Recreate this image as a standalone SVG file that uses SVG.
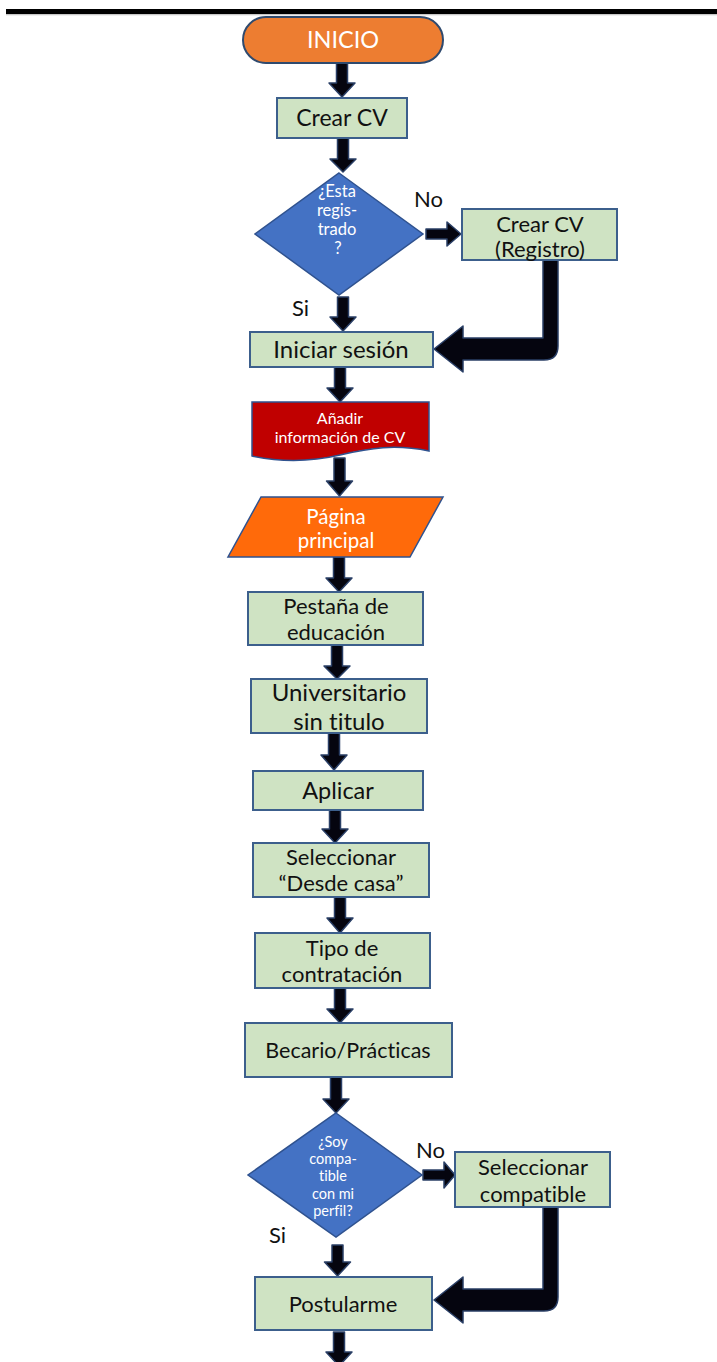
<svg xmlns="http://www.w3.org/2000/svg" width="717" height="1362" viewBox="0 0 717 1362">
<style>
.box{fill:#CFE3C3;stroke:#3C5F8C;stroke-width:2}
.arr{fill:#05050F;stroke:#2A3F66;stroke-width:1.5;stroke-linejoin:round}
text{font-family:Lato,"Liberation Sans",sans-serif;text-anchor:middle;font-variant-ligatures:none;font-feature-settings:"liga" 0,"clig" 0}
.t{fill:#111}
.w{fill:#fff}
.lbl{fill:#111;text-anchor:start}
</style>
<rect x="0" y="0" width="717" height="1362" fill="#fff"/>
<rect x="6" y="9" width="711" height="5" fill="#000"/>
<rect x="6" y="14" width="711" height="1.3" fill="#c8c8c8"/>

<g id="connectors">
<polygon class="arr" points="336.5,63 347.5,63 347.5,83 355,83 342,97 329,83 336.5,83"/>
<polygon class="arr" points="337.5,138 348.5,138 348.5,159 356,159 343,172 330,159 337.5,159"/>
<polygon class="arr" points="337.5,297 348.5,297 348.5,317 356,317 343,331 330,317 337.5,317"/>
<polygon class="arr" points="334.5,367 345.5,367 345.5,388 353,388 340,402 327,388 334.5,388"/>
<polygon class="arr" points="334,458 345,458 345,481 352.5,481 339.5,496 326.5,481 334,481"/>
<polygon class="arr" points="333.5,557 344.5,557 344.5,578 352,578 339,592 326,578 333.5,578"/>
<polygon class="arr" points="331.5,645 342.5,645 342.5,666 350,666 337,679 324,666 331.5,666"/>
<polygon class="arr" points="328.5,733 339.5,733 339.5,755 347,755 334,770 321,755 328.5,755"/>
<polygon class="arr" points="329.5,810 340.5,810 340.5,829 348,829 335,843 322,829 329.5,829"/>
<polygon class="arr" points="334.5,897 345.5,897 345.5,918 353,918 340,933 327,918 334.5,918"/>
<polygon class="arr" points="334.5,988 345.5,988 345.5,1009 353,1009 340,1023 327,1009 334.5,1009"/>
<polygon class="arr" points="330.5,1077 341.5,1077 341.5,1099 349,1099 336,1113 323,1099 330.5,1099"/>
<polygon class="arr" points="332,1245 343,1245 343,1262 350.5,1262 337.5,1276 324.5,1262 332,1262"/>
<polygon class="arr" points="333.5,1332 344.5,1332 344.5,1352 352,1352 339,1366 326,1352 333.5,1352"/>
<polygon class="arr" points="426,229 447,229 447,222 461,234 447,246 447,239 426,239"/>
<polygon class="arr" points="423,1170 444,1170 444,1162 455,1175 444,1188 444,1180 423,1180"/>
<path class="arr" d="M543,260 L558,260 L558,346 Q558,360 544,360 L463,360 L463,372 L434,349 L463,326 L463,338 L543,338 Z"/>
<path class="arr" d="M543,1207 L558,1207 L558,1297 Q558,1311 544,1311 L463,1311 L463,1323 L434,1300 L463,1277 L463,1289 L543,1289 Z"/>
<text class="lbl" font-size="22" x="414" y="207">No</text>
<text class="lbl" font-size="22" x="292" y="316">Si</text>
<text class="lbl" font-size="22" x="416" y="1158">No</text>
<text class="lbl" font-size="22" x="269" y="1243">Si</text>
</g>

<g id="inicio">
<rect x="243" y="17" width="200" height="46" rx="23" fill="#ED7D31" stroke="#2F4A6E" stroke-width="2"/>
<text class="w" font-size="23.5" x="343" y="48">INICIO</text>
</g>

<g id="crear-cv">
<rect class="box" x="277" y="98" width="130" height="40"/>
<text class="t" font-size="23" x="342" y="126">Crear CV</text>
</g>

<g id="esta-registrado">
<polygon points="339,173 423,234 339,295 255,234" fill="#4472C4" stroke="#2F528F" stroke-width="1.5"/>
<text class="w" font-size="16.5" x="337" y="197">¿Esta</text>
<text class="w" font-size="16.5" x="337" y="216">regis-</text>
<text class="w" font-size="16.5" x="337" y="235">trado</text>
<text class="w" font-size="16.5" x="338" y="254">?</text>
</g>

<g id="crear-cv-registro">
<rect class="box" x="462" y="209" width="155" height="51"/>
<text class="t" font-size="22" x="540" y="232">Crear CV</text>
<text class="t" font-size="22" x="540" y="257">(Registro)</text>
</g>

<g id="iniciar-sesion">
<rect class="box" x="250" y="332" width="183" height="35"/>
<text class="t" font-size="24" x="341" y="358">Iniciar sesión</text>
</g>

<g id="anadir-info">
<path d="M252,402 L429,402 L429,451 C395,444 370,448 340,455 C310,462 280,462 252,456 Z" fill="#C00000" stroke="#2F528F" stroke-width="1.5"/>
<text class="w" font-size="16" x="340" y="424">Añadir</text>
<text class="w" font-size="16" x="340" y="443">información de CV</text>
</g>

<g id="pagina-principal">
<polygon points="261,497 443,497 410,557 228,557" fill="#FF6A0A" stroke="#2F528F" stroke-width="1.5"/>
<text class="w" font-size="20.5" x="336" y="523.5">Página</text>
<text class="w" font-size="20.5" x="336" y="548">principal</text>
</g>

<g id="pestana-educacion">
<rect class="box" x="248" y="592" width="175" height="53"/>
<text class="t" font-size="22" x="336" y="614">Pestaña de</text>
<text class="t" font-size="22" x="336" y="640">educación</text>
</g>

<g id="universitario">
<rect class="box" x="251" y="679" width="176" height="54"/>
<text class="t" font-size="24" x="339" y="701">Universitario</text>
<text class="t" font-size="24" x="339" y="730">sin titulo</text>
</g>

<g id="aplicar">
<rect class="box" x="253" y="771" width="170" height="39"/>
<text class="t" font-size="23.5" x="338" y="799">Aplicar</text>
</g>

<g id="seleccionar-desde-casa">
<rect class="box" x="253" y="843" width="176" height="54"/>
<text class="t" font-size="22" x="341" y="865">Seleccionar</text>
<text class="t" font-size="22" x="341" y="891">“Desde casa”</text>
</g>

<g id="tipo-contratacion">
<rect class="box" x="255" y="933" width="175" height="55"/>
<text class="t" font-size="22" x="342" y="956">Tipo de</text>
<text class="t" font-size="22" x="342" y="982">contratación</text>
</g>

<g id="becario">
<rect class="box" x="245" y="1023" width="207" height="54"/>
<text class="t" font-size="21.5" x="348" y="1058">Becario/Prácticas</text>
</g>

<g id="soy-compatible">
<polygon points="336,1113 422,1175 336,1237 248,1175" fill="#4472C4" stroke="#2F528F" stroke-width="1.5"/>
<text class="w" font-size="14.5" x="333" y="1147">¿Soy</text>
<text class="w" font-size="14.5" x="333" y="1164">compa-</text>
<text class="w" font-size="14.5" x="333" y="1181">tible</text>
<text class="w" font-size="14.5" x="333" y="1199">con mi</text>
<text class="w" font-size="14.5" x="333" y="1216">perfil?</text>
</g>

<g id="seleccionar-compatible">
<rect class="box" x="455" y="1152" width="155" height="55"/>
<text class="t" font-size="22" x="533" y="1175">Seleccionar</text>
<text class="t" font-size="22" x="533" y="1202">compatible</text>
</g>

<g id="postularme">
<rect class="box" x="255" y="1277" width="177" height="53"/>
<text class="t" font-size="22" x="343" y="1312">Postularme</text>
</g>
</svg>
